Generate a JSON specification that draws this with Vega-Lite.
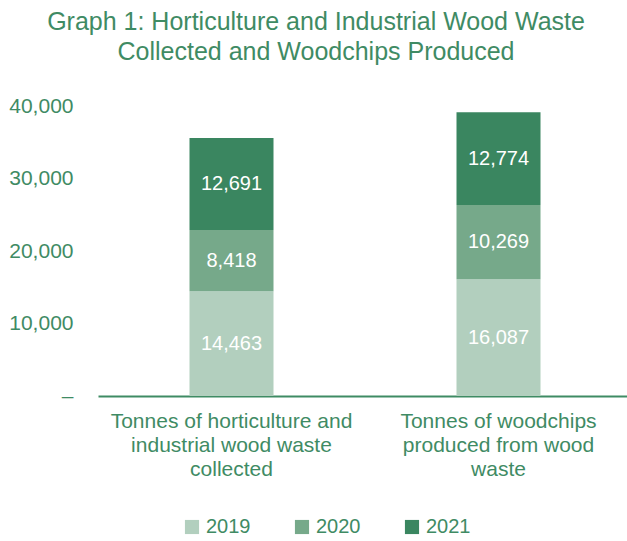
{
  "$schema": "https://vega.github.io/schema/vega-lite/v6.json",
  "autosize": "none",
  "width": 534,
  "height": 290,
  "padding": {"left": 98, "top": 106, "right": 0, "bottom": 145},
  "background": "white",
  "config": {
    "view": {"stroke": null},
    "font": "Liberation Sans"
  },
  "title": {
    "text": ["Graph 1: Horticulture and Industrial Wood Waste", "Collected and Woodchips Produced"],
    "fontSize": 25,
    "fontWeight": "normal",
    "color": "#3f8b64",
    "anchor": "middle",
    "frame": "group",
    "dx": -49,
    "offset": 30,
    "lineHeight": 30
  },
  "data": {
    "values": [
      {"category": "Tonnes of horticulture and industrial wood waste collected", "year": "2019", "value": 14463},
      {"category": "Tonnes of horticulture and industrial wood waste collected", "year": "2020", "value": 8418},
      {"category": "Tonnes of horticulture and industrial wood waste collected", "year": "2021", "value": 12691},
      {"category": "Tonnes of woodchips produced from wood waste", "year": "2019", "value": 16087},
      {"category": "Tonnes of woodchips produced from wood waste", "year": "2020", "value": 10269},
      {"category": "Tonnes of woodchips produced from wood waste", "year": "2021", "value": 12774}
    ]
  },
  "transform": [
    {"stack": "value", "groupby": ["category"], "sort": [{"field": "year", "order": "ascending"}], "as": ["y0", "y1"]},
    {"calculate": "(datum.y0 + datum.y1) / 2", "as": "ymid"}
  ],
  "encoding": {
    "x": {
      "field": "category",
      "type": "nominal",
      "sort": null,
      "title": null,
      "scale": {"paddingInner": 0, "paddingOuter": 0},
      "axis": {
        "labelAngle": 0,
        "labelFontSize": 21,
        "labelColor": "#3f8b64",
        "labelPadding": 14,
        "labelLineHeight": 24,
        "labelLimit": 400,
        "labelBaseline": "top",
        "ticks": false,
        "domainColor": "#3f8b64",
        "domainWidth": 2,
        "labelExpr": "datum.value == 'Tonnes of horticulture and industrial wood waste collected' ? ['Tonnes of horticulture and', 'industrial wood waste', 'collected'] : ['Tonnes of woodchips', 'produced from wood', 'waste']"
      }
    }
  },
  "layer": [
    {
      "mark": {"type": "bar", "size": 84},
      "encoding": {
        "y": {
          "field": "y0",
          "type": "quantitative",
          "scale": {"domain": [0, 40000]},
          "title": null,
          "axis": {
            "values": [0, 10000, 20000, 30000, 40000],
            "format": ",.0f",
            "labelExpr": "datum.value == 0 ? '–' : datum.label",
            "labelFontSize": 21,
            "labelColor": "#3f8b64",
            "labelPadding": 25,
            "grid": false,
            "ticks": false,
            "domain": false
          }
        },
        "y2": {"field": "y1"},
        "color": {
          "field": "year",
          "type": "nominal",
          "title": null,
          "scale": {"domain": ["2019", "2020", "2021"], "range": ["#b2cfbe", "#76a98a", "#3a8660"]},
          "legend": {
            "orient": "none",
            "legendX": 84,
            "legendY": 411,
            "direction": "horizontal",
            "symbolType": "square",
            "symbolSize": 200,
            "symbolStrokeWidth": 0,
            "symbolOpacity": 1,
            "labelFontSize": 20,
            "labelColor": "#3f8b64",
            "labelOffset": 4,
            "columnPadding": 41
          }
        }
      }
    },
    {
      "mark": {"type": "text", "fontSize": 20, "color": "white", "baseline": "middle"},
      "encoding": {
        "y": {"field": "ymid", "type": "quantitative"},
        "text": {"field": "value", "type": "quantitative", "format": ",.0f"}
      }
    }
  ]
}
